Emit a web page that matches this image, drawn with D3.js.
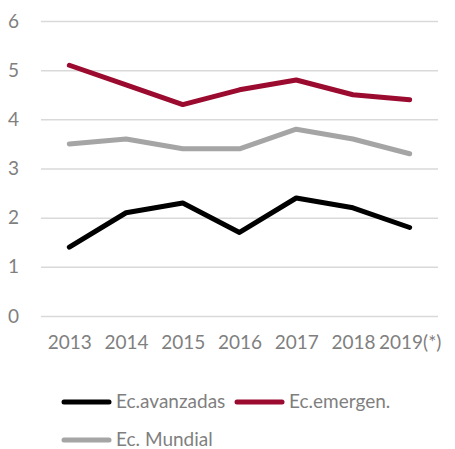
<!DOCTYPE html>
<html><head><meta charset="utf-8">
<script src="https://cdn.jsdelivr.net/npm/d3@7"></script>
<style>body{margin:0;background:#fff}</style>
</head><body>
<svg id="c" width="455" height="449"></svg>
<script>
const years = ["2013","2014","2015","2016","2017","2018","2019(*)"];
const avanzadas = [1.4, 2.1, 2.3, 1.7, 2.4, 2.2, 1.8];
const emergentes = [5.1, 4.7, 4.3, 4.6, 4.8, 4.5, 4.4];
const mundial = [3.5, 3.6, 3.4, 3.4, 3.8, 3.6, 3.3];
const yTicks = [0,1,2,3,4,5,6];
const seriesNames = ["Ec.avanzadas","Ec.emergen.","Ec. Mundial"];
const colors = ["#000000","#9b0b2f","#a5a5a5"];

const svg = d3.select("#c");
const font = "Lato, 'Open Sans', sans-serif";
const textColor = "#7f7f7f";
const x = d3.scalePoint().domain(years).range([41,438]).padding(0.5);
const y = d3.scaleLinear().domain([0,6]).range([316,21]);

const yAxis = d3.axisLeft(y).tickValues(yTicks).tickFormat(d3.format("d")).tickSize(-(438-41)).tickPadding(22);
const gy = svg.append("g").attr("transform","translate(41,0)").call(yAxis);
gy.select(".domain").remove();
gy.selectAll(".tick line").attr("stroke","#d9d9d9").attr("stroke-width",1.5);
gy.selectAll(".tick text").attr("fill",textColor).style("font-family",font).style("font-size","19px");

const xAxis = d3.axisBottom(x).tickSize(0).tickPadding(20);
const gx = svg.append("g").attr("transform","translate(0,316)").call(xAxis);
gx.select(".domain").remove();
gx.selectAll(".tick text").attr("fill",textColor).style("font-family",font).style("font-size","19px");

const data = [avanzadas, emergentes, mundial];
const line = d3.line().x((d,i)=>x(years[i])).y(d=>y(d));
[2,1,0].forEach(k=>{
  svg.append("path").datum(data[k]).attr("d",line)
    .attr("fill","none").attr("stroke",colors[k]).attr("stroke-width",5)
    .attr("stroke-linecap","round").attr("stroke-linejoin","round");
});

const legendPos = [[62,402],[235,402],[62,440]];
seriesNames.forEach((n,k)=>{
  const [lx,ly] = legendPos[k];
  svg.append("line").attr("x1",lx+2).attr("x2",lx+47).attr("y1",ly).attr("y2",ly)
    .attr("stroke",colors[k]).attr("stroke-width",5).attr("stroke-linecap","round");
  svg.append("text").attr("x",lx+54).attr("y",ly+6).text(n)
    .attr("fill",textColor).style("font-family",font).style("font-size","19px");
});
</script>
</body></html>
